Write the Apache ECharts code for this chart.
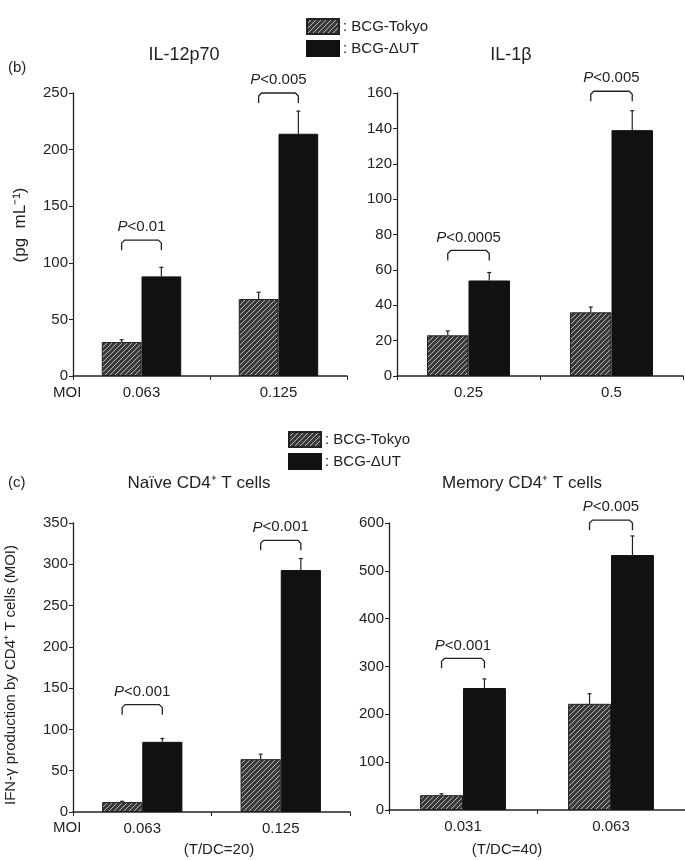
<!DOCTYPE html>
<html><head><meta charset="utf-8">
<script src="https://cdn.jsdelivr.net/npm/echarts@6.0.0/dist/echarts.min.js"></script>
<style>html,body{margin:0;padding:0;background:#fff}#c{width:685px;height:860px}</style>
</head><body><div id="c"></div>
<script>
const FONT = '"Liberation Sans", Arial, Helvetica, sans-serif';
const INK = '#222';

// ---- categories ----
const catIL12 = ['0.063', '0.125'];
const catIL1b = ['0.25', '0.5'];
const catNaive = ['0.063', '0.125'];
const catMemory = ['0.031', '0.063'];

// ---- series values (BCG-Tokyo / BCG-ΔUT) and upward SD ----
const il12Tokyo = [30, 68];
const il12TokyoSD = [2, 6];
const il12dUT = [88, 214];
const il12dUTSD = [8, 20];

const il1bTokyo = [23, 36];
const il1bTokyoSD = [2.5, 3];
const il1bdUT = [54, 139];
const il1bdUTSD = [4.5, 11];

const naiveTokyo = [12, 64];
const naiveTokyoSD = [1, 6];
const naivedUT = [85, 293];
const naivedUTSD = [4, 14];

const memTokyo = [31, 222];
const memTokyoSD = [3, 21];
const memdUT = [255, 533];
const memdUTSD = [19, 40];

// ---- axis ranges / ticks ----
const il12Axis = {min: 0, max: 250, interval: 50};
const il1bAxis = {min: 0, max: 160, interval: 20};
const naiveAxis = {min: 0, max: 350, interval: 50};
const memAxis = {min: 0, max: 600, interval: 100};

// ---- significance brackets: [category index, bracket top value] and p-values ----
const il12Brackets = [[0, 120], [1, 250]];
const il12P = ['0.01', '0.005'];
const il1bBrackets = [[0, 71], [1, 161]];
const il1bP = ['0.0005', '0.005'];
const naiveBrackets = [[0, 130], [1, 329]];
const naiveP = ['0.001', '0.001'];
const memBrackets = [[0, 317], [1, 606]];
const memP = ['0.001', '0.005'];

const seriesNames = ['BCG-Tokyo', 'BCG-ΔUT'];

function hatch() {
  const s = 5, c = document.createElement('canvas');
  c.width = c.height = s;
  const g = c.getContext('2d');
  g.fillStyle = '#3a3a3a'; g.fillRect(0, 0, s, s);
  g.strokeStyle = '#b8b8b8'; g.lineWidth = 1;
  g.beginPath();
  g.moveTo(0, s); g.lineTo(s, 0);
  g.moveTo(-1, 1); g.lineTo(1, -1);
  g.moveTo(s - 1, s + 1); g.lineTo(s + 1, s - 1);
  g.stroke();
  return c;
}
const HATCH = {image: hatch(), repeat: 'repeat'};
const HALF = 0.145;

function errRender(off) {
  return function (params, api) {
    const ci = api.value(0), v = api.value(1), sd = api.value(2);
    const band = api.size([1, 0])[0];
    const p0 = api.coord([ci, v]);
    const p1 = api.coord([ci, v + sd]);
    const x = p0[0] + off * band;
    return {type: 'group', children: [
      {type: 'line', shape: {x1: x, y1: p0[1], x2: x, y2: p1[1]}, style: {stroke: INK, lineWidth: 1.2}},
      {type: 'line', shape: {x1: x - 2, y1: p1[1], x2: x + 2, y2: p1[1]}, style: {stroke: INK, lineWidth: 1.2}}
    ]};
  };
}
function bracketRender(ptexts) {
  return function (params, api) {
    const ci = api.value(0), v = api.value(1);
    const band = api.size([1, 0])[0];
    const p = api.coord([ci, v]);
    const xl = p[0] - HALF * band, xr = p[0] + HALF * band, y = p[1];
    return {type: 'group', children: [
      {type: 'polyline', shape: {points: [[xl, y + 10], [xl, y + 3], [xl + 3, y], [xr - 3, y], [xr, y + 3], [xr, y + 10]]},
        style: {stroke: INK, fill: null, lineWidth: 1.3}},
      {type: 'text', x: (xl + xr) / 2, y: y - 13,
        style: {text: '{i|P}<' + ptexts[params.dataIndex],
          rich: {i: {fontStyle: 'italic', fontSize: 15, fontFamily: FONT, fill: INK}},
          fontSize: 15, fontFamily: FONT, fill: INK, align: 'center', verticalAlign: 'middle'}}
    ]};
  };
}

const panels = [
  {cats: catIL12, t: il12Tokyo, tsd: il12TokyoSD, d: il12dUT, dsd: il12dUTSD, ax: il12Axis, br: il12Brackets, p: il12P,
    grid: {left: 73, top: 93, width: 274, height: 283}},
  {cats: catIL1b, t: il1bTokyo, tsd: il1bTokyoSD, d: il1bdUT, dsd: il1bdUTSD, ax: il1bAxis, br: il1bBrackets, p: il1bP,
    grid: {left: 397, top: 93, width: 286, height: 283}},
  {cats: catNaive, t: naiveTokyo, tsd: naiveTokyoSD, d: naivedUT, dsd: naivedUTSD, ax: naiveAxis, br: naiveBrackets, p: naiveP,
    grid: {left: 73, top: 523, width: 277, height: 289}},
  {cats: catMemory, t: memTokyo, tsd: memTokyoSD, d: memdUT, dsd: memdUTSD, ax: memAxis, br: memBrackets, p: memP,
    grid: {left: 389, top: 523, width: 296, height: 287}}
];

const grid = [], xAxis = [], yAxis = [], series = [];
panels.forEach((P, i) => {
  grid.push(P.grid);
  xAxis.push({type: 'category', gridIndex: i, data: P.cats,
    axisLine: {lineStyle: {color: INK, width: 1.5}},
    axisTick: {show: true, length: 4, lineStyle: {color: INK}},
    axisLabel: {fontSize: 15, fontFamily: FONT, color: INK, margin: 9}});
  yAxis.push({type: 'value', gridIndex: i, min: P.ax.min, max: P.ax.max, interval: P.ax.interval,
    axisLine: {show: true, lineStyle: {color: INK, width: 1.3}},
    axisTick: {show: true, length: 4, lineStyle: {color: INK}},
    splitLine: {show: false},
    axisLabel: {fontSize: 15, fontFamily: FONT, color: INK, margin: 5}});
  series.push({type: 'bar', name: seriesNames[0], xAxisIndex: i, yAxisIndex: i, data: P.t,
    barWidth: '29%', barGap: '0%', itemStyle: {color: HATCH, borderColor: INK, borderWidth: 1}});
  series.push({type: 'bar', name: seriesNames[1], xAxisIndex: i, yAxisIndex: i, data: P.d,
    barWidth: '29%', barGap: '0%', itemStyle: {color: '#111', borderColor: '#111', borderWidth: 1}});
  series.push({type: 'custom', name: 'errT' + i, xAxisIndex: i, yAxisIndex: i, clip: false, z: 5,
    data: P.t.map((v, k) => [k, v, P.tsd[k]]), encode: {x: 0, y: 1}, renderItem: errRender(-HALF)});
  series.push({type: 'custom', name: 'errD' + i, xAxisIndex: i, yAxisIndex: i, clip: false, z: 5,
    data: P.d.map((v, k) => [k, v, P.dsd[k]]), encode: {x: 0, y: 1}, renderItem: errRender(HALF)});
  series.push({type: 'custom', name: 'br' + i, xAxisIndex: i, yAxisIndex: i, clip: false, z: 5,
    data: P.br, encode: {x: 0, y: 1}, renderItem: bracketRender(P.p)});
});

function txt(x, y, s, size, extra) {
  return Object.assign({type: 'text', x: x, y: y,
    style: Object.assign({text: s, fontSize: size, fontFamily: FONT, fill: INK, align: 'center', verticalAlign: 'middle'}, extra || {})});
}
const legendCommon = {orient: 'vertical', itemWidth: 32, itemHeight: 15, itemGap: 5, icon: 'rect',
  data: seriesNames, formatter: n => ': ' + n, selectedMode: false,
  textStyle: {fontSize: 15, fontFamily: FONT, color: INK, padding: [0, 0, 0, -1]}};

const option = {
  backgroundColor: '#fff',
  animation: false,
  legend: [Object.assign({left: 301, top: 13}, legendCommon), Object.assign({left: 283, top: 426}, legendCommon)],
  grid, xAxis, yAxis, series,
  graphic: [
    txt(8, 68, '(b)', 15, {align: 'left'}),
    txt(8, 483, '(c)', 15, {align: 'left'}),
    txt(184, 55, 'IL-12p70', 18),
    txt(511, 55, 'IL-1β', 18),
    txt(199, 483, 'Naïve CD4⁺ T cells', 17),
    txt(522, 483, 'Memory CD4⁺ T cells', 17),
    Object.assign(txt(20, 225, '(pg  mL⁻¹)', 17), {rotation: Math.PI / 2}),
    Object.assign(txt(11, 675, 'IFN-γ production by CD4⁺ T cells (MOI)', 15), {rotation: Math.PI / 2}),
    txt(53, 393, 'MOI', 15, {align: 'left'}),
    txt(53, 828, 'MOI', 15, {align: 'left'}),
    txt(219, 850, '(T/DC=20)', 15),
    txt(507, 850, '(T/DC=40)', 15)
  ]
};
const chart = echarts.init(document.getElementById('c'), null, {renderer: 'canvas'});
chart.setOption(option);
</script>
</body></html>
